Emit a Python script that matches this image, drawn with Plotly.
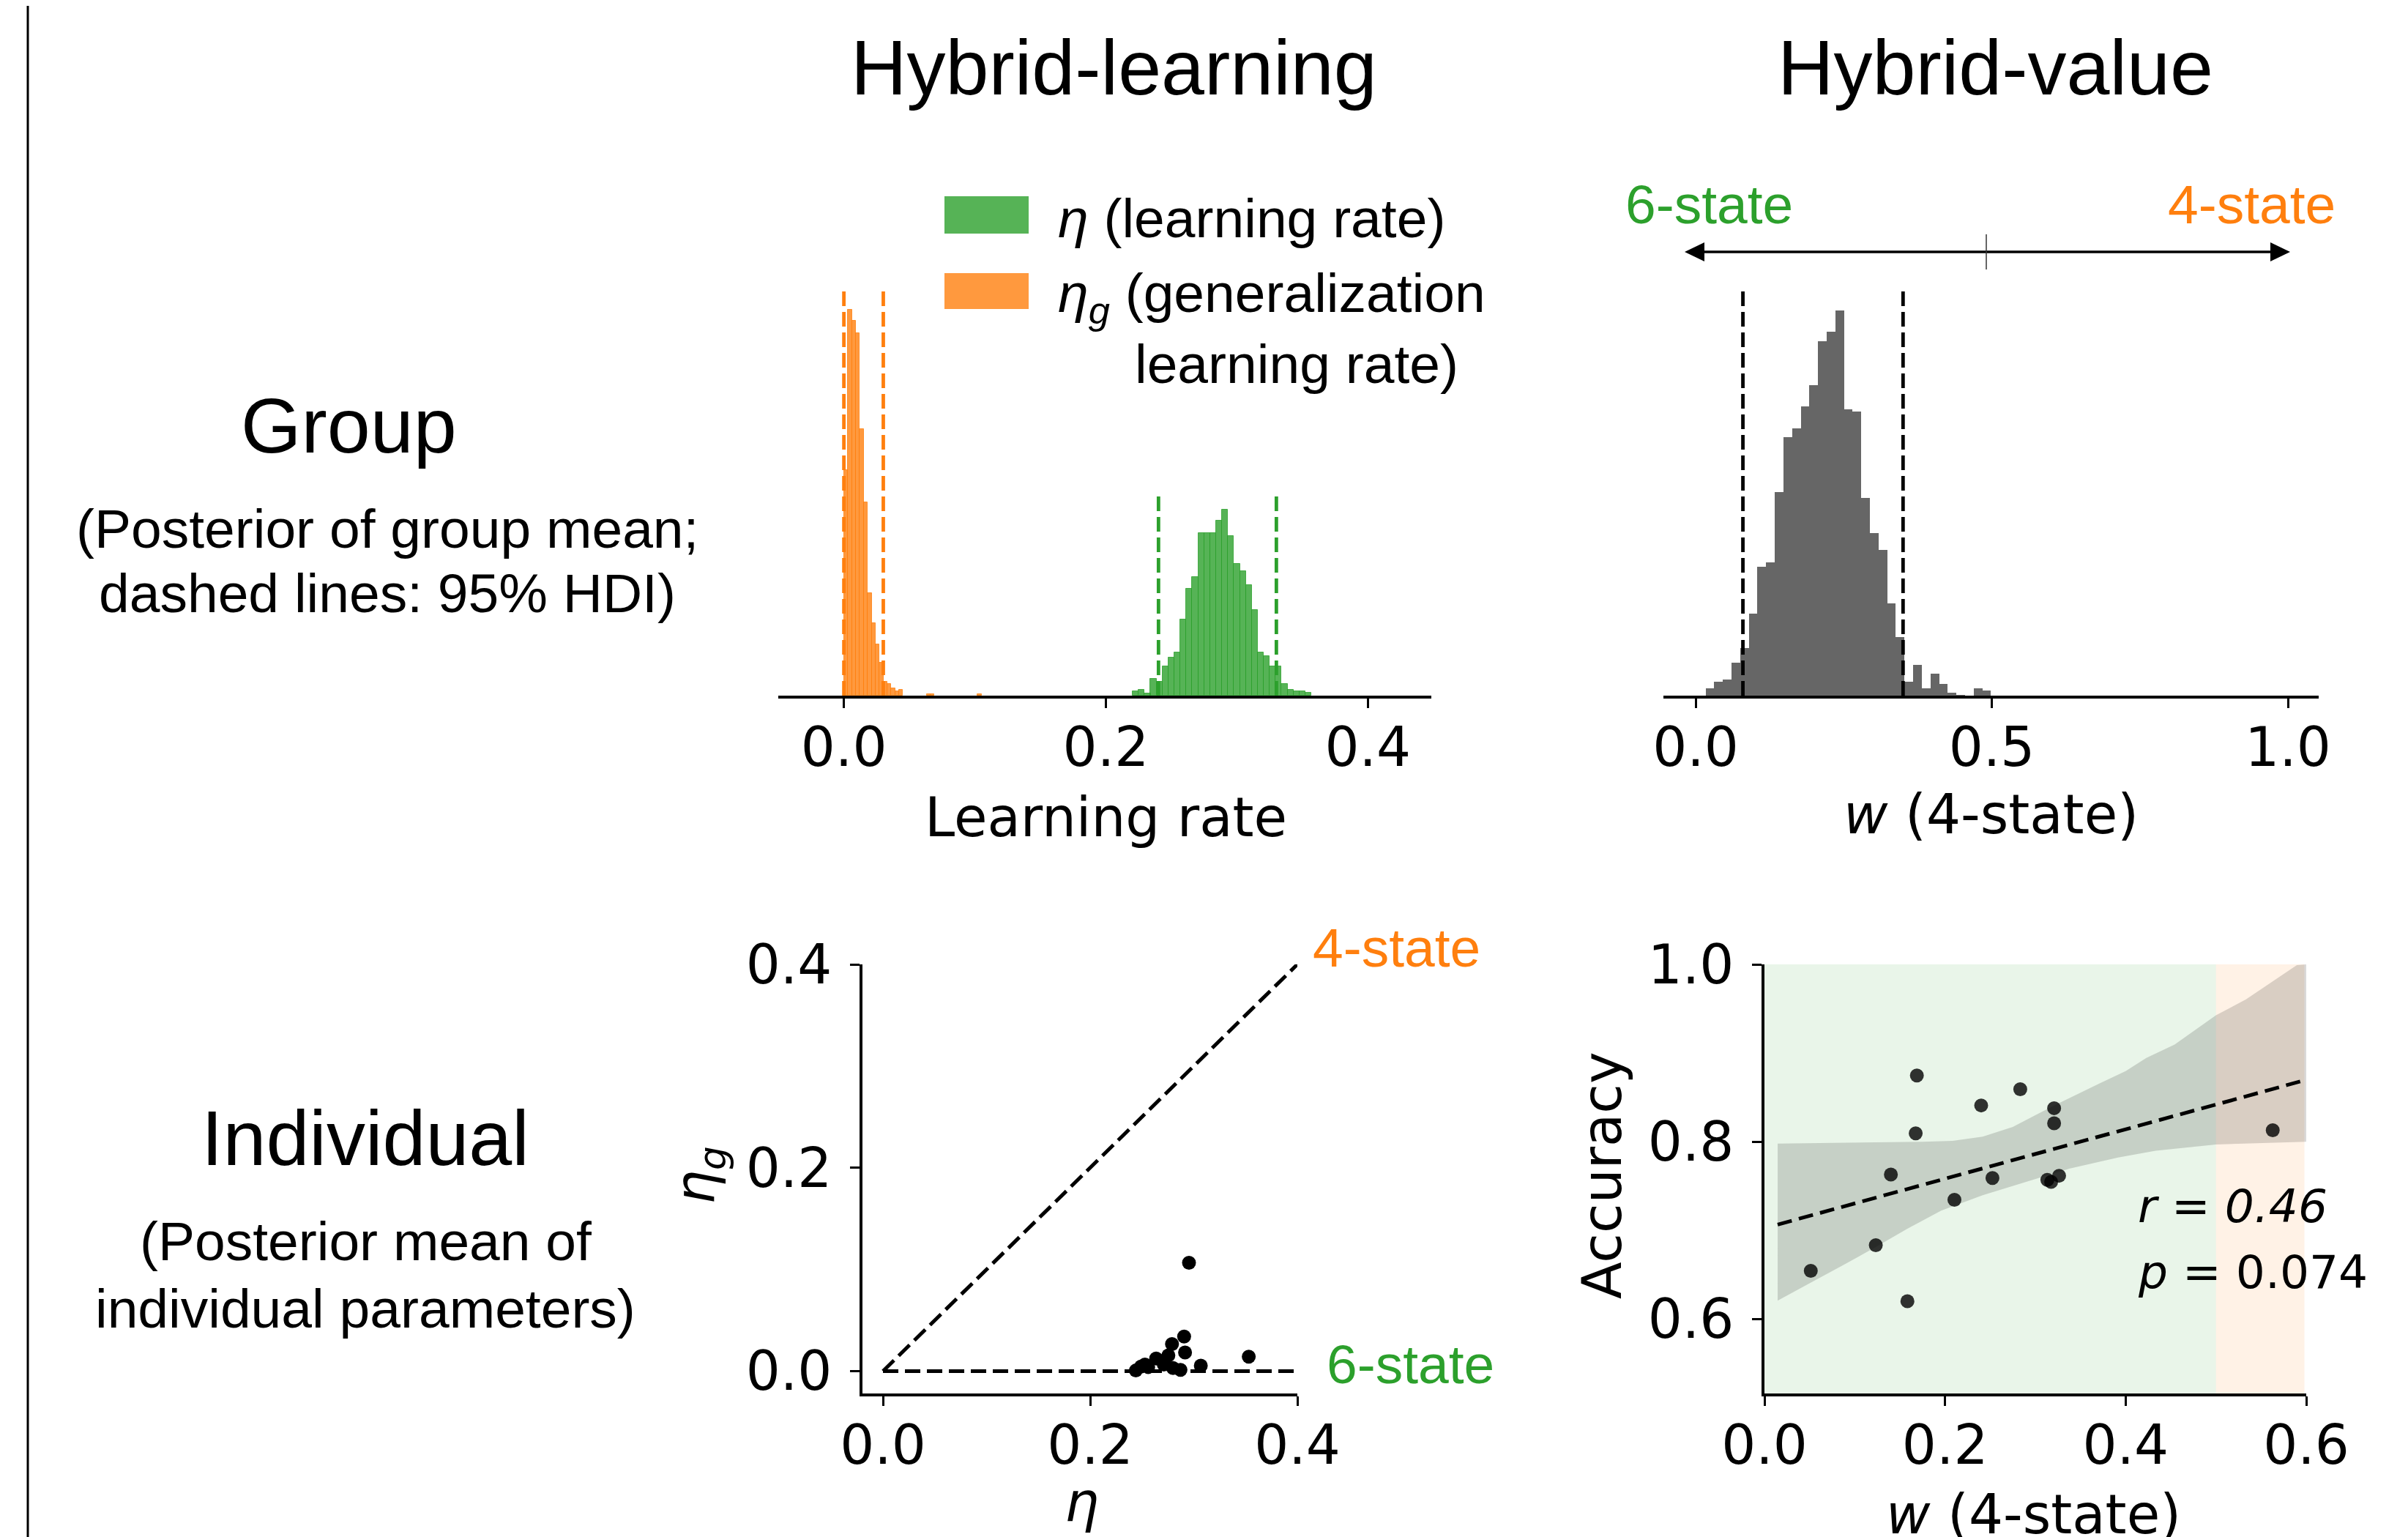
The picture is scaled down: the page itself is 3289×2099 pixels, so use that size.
import numpy as np
import plotly.graph_objects as go

W, H = 3289, 2099

# ---------------- data ----------------
# Group posterior of eta_g (generalization learning rate): bin centres and density (scaled)
eta_g_bins = [0.0017, 0.0047, 0.0077, 0.0107, 0.0137, 0.0167, 0.0197, 0.0227, 0.0257,
              0.0287, 0.0317, 0.0347, 0.0377, 0.0407, 0.0437, 0.0647, 0.0677, 0.1037]
eta_g_density = [0.552, 0.945, 0.917, 0.887, 0.653, 0.473, 0.251, 0.178, 0.125,
                 0.081, 0.034, 0.029, 0.018, 0.010, 0.014, 0.004, 0.004, 0.004]

# Group posterior of eta (learning rate)
eta_bins = [0.2228, 0.2273, 0.2319, 0.2364, 0.2410, 0.2455, 0.2501, 0.2546, 0.2591, 0.2637,
            0.2682, 0.2728, 0.2773, 0.2819, 0.2864, 0.2910, 0.2955, 0.3001, 0.3046, 0.3091,
            0.3137, 0.3182, 0.3228, 0.3273, 0.3319, 0.3364, 0.3410, 0.3455, 0.3501, 0.3546]
eta_density = [0.011, 0.015, 0.006, 0.042, 0.034, 0.072, 0.094, 0.106, 0.187, 0.261,
               0.291, 0.398, 0.398, 0.398, 0.428, 0.456, 0.390, 0.323, 0.305, 0.271,
               0.210, 0.106, 0.096, 0.071, 0.071, 0.029, 0.015, 0.011, 0.011, 0.008]

# Group posterior of w (4-state weight)
w_bins = [0.0241, 0.0387, 0.0533, 0.0679, 0.0825, 0.0971, 0.1117, 0.1263, 0.1409, 0.1555,
          0.1701, 0.1847, 0.1993, 0.2139, 0.2285, 0.2431, 0.2577, 0.2723, 0.2869, 0.3015,
          0.3161, 0.3307, 0.3453, 0.3599, 0.3745, 0.3891, 0.4037, 0.4183, 0.4329, 0.4475,
          0.4621, 0.4767, 0.4913]
w_density = [0.018, 0.034, 0.039, 0.080, 0.116, 0.201, 0.315, 0.326, 0.499, 0.633,
             0.654, 0.707, 0.759, 0.868, 0.890, 0.942, 0.701, 0.696, 0.483, 0.398,
             0.357, 0.226, 0.144, 0.034, 0.075, 0.018, 0.054, 0.028, 0.007, 0.0014,
             0.0, 0.018, 0.012]

# 95% HDI bounds and the heights of their dashed markers
eta_hdi = [0.2402, 0.3302]
eta_g_hdi = [0.0000, 0.0301]
w_hdi = [0.0798, 0.3502]
eta_hdi_height = 0.49
eta_g_hdi_height = 0.99
w_hdi_height = 0.99

# Individual posterior means (Hybrid-learning)
ind_eta = [0.2954, 0.2907, 0.2790, 0.2916, 0.2755, 0.2637, 0.2711, 0.2529,
           0.2491, 0.2441, 0.2872, 0.3068, 0.3531, 0.2700, 0.2560, 0.2800]
ind_eta_g = [0.1065, 0.0340, 0.0266, 0.0183, 0.0154, 0.0124, 0.0065, 0.0065,
             0.0044, 0.0006, 0.0012, 0.0053, 0.0142, 0.0100, 0.0040, 0.0030]
ref_x = [0.0, 0.4]
diag_y = [0.0, 0.4]
zero_y = [0.0, 0.0]

# Individual w vs accuracy (Hybrid-value)
ind_w = [0.1688, 0.2833, 0.2400, 0.3208, 0.3208, 0.1675, 0.5629, 0.1400,
         0.2525, 0.3133, 0.3175, 0.3263, 0.2104, 0.1233, 0.0513, 0.1583]
ind_acc = [0.8746, 0.8592, 0.8409, 0.8378, 0.8208, 0.8094, 0.8129, 0.7629,
           0.7591, 0.7569, 0.7547, 0.7616, 0.7345, 0.6832, 0.6543, 0.6200]
# confidence band of the regression
band_up_x = [0.0146, 0.075, 0.175, 0.2083, 0.2417, 0.275, 0.3208, 0.3708, 0.40,
             0.4229, 0.4542, 0.50, 0.5333, 0.5896, 0.60]
band_up_y = [0.7978, 0.7984, 0.800, 0.8009, 0.8057, 0.8167, 0.8409, 0.8655, 0.8796,
             0.8944, 0.9095, 0.9426, 0.9605, 0.9992, 1.0]
band_lo_x = [0.0146, 0.05, 0.0875, 0.1208, 0.1583, 0.1958, 0.2417, 0.2917, 0.3375,
             0.3917, 0.4333, 0.50, 0.60]
band_lo_y = [0.6206, 0.6404, 0.6609, 0.6798, 0.7018, 0.7223, 0.7396, 0.7553, 0.7695,
             0.7821, 0.7899, 0.7969, 0.800]
r_text = "r = 0.46"
p_text = "0.074"
w_split = 0.5

# ---------------- styles ----------------
GREEN = "#2ca02c"
ORANGE = "#ff7f0e"
GREEN_A = "rgba(44,160,44,0.8)"
ORANGE_A = "rgba(255,127,14,0.8)"
GRAY_A = "rgba(0,0,0,0.6)"
ARIAL = "Liberation Sans, Arial, sans-serif"
DJV = "DejaVu Sans, sans-serif"
TICK = 74
LAB = 74
BIG = 106
MID = 75
STAT = 63
LW = 3.5
OFF = 8  # page body margin compensation (px)


def px(x):
    return (x - OFF) / W


def py(y):
    return 1 - (y - OFF) / H


fig = go.Figure()

# ---- Panel A: histograms of learning rates ----
fig.add_trace(go.Bar(x=eta_g_bins, y=eta_g_density, width=0.003, marker_color=ORANGE_A,
                     marker_line=dict(color=ORANGE_A, width=1), xaxis="x", yaxis="y"))
fig.add_trace(go.Bar(x=eta_bins, y=eta_density, width=0.004546, marker_color=GREEN_A,
                     marker_line=dict(color=GREEN_A, width=1), xaxis="x", yaxis="y"))


def vlines(vals, h):
    xs, ys = [], []
    for v in vals:
        xs += [v, v, None]
        ys += [0, h, None]
    return xs, ys


for vals, h, col, xa, ya in [(eta_g_hdi, eta_g_hdi_height, ORANGE, "x", "y"),
                             (eta_hdi, eta_hdi_height, GREEN, "x", "y")]:
    xs, ys = vlines(vals, h)
    fig.add_trace(go.Scatter(x=xs, y=ys, mode="lines", xaxis=xa, yaxis=ya,
                             line=dict(color=col, width=4.8, dash="20px,8px")))

# ---- Panel B: histogram of w ----
fig.add_trace(go.Bar(x=w_bins, y=w_density, width=0.0146, marker_color=GRAY_A,
                     marker_line=dict(width=0), xaxis="x2", yaxis="y2"))
xs, ys = vlines(w_hdi, w_hdi_height)
fig.add_trace(go.Scatter(x=xs, y=ys, mode="lines", xaxis="x2", yaxis="y2",
                         line=dict(color="black", width=4.8, dash="20px,8px")))

# ---- Panel C: individual eta vs eta_g ----
fig.add_trace(go.Scatter(x=ref_x, y=diag_y, mode="lines", xaxis="x3", yaxis="y3",
                         line=dict(color="black", width=5, dash="21px,9px")))
fig.add_trace(go.Scatter(x=ref_x, y=zero_y, mode="lines", xaxis="x3", yaxis="y3",
                         line=dict(color="black", width=5, dash="21px,9px")))
fig.add_trace(go.Scatter(x=ind_eta, y=ind_eta_g, mode="markers", xaxis="x3", yaxis="y3",
                         marker=dict(color="black", size=19, line=dict(width=0))))

# ---- Panel D: w vs accuracy ----
bx = band_up_x + band_lo_x[::-1]
by = band_up_y + band_lo_y[::-1]
fig.add_trace(go.Scatter(x=bx, y=by, mode="lines", fill="toself", xaxis="x4", yaxis="y4",
                         fillcolor="rgba(0,0,0,0.15)", line=dict(width=0)))
slope, icpt = np.polyfit(ind_w, ind_acc, 1)
lx = np.array([min(band_up_x), max(band_up_x)])
fig.add_trace(go.Scatter(x=lx, y=icpt + slope * lx, mode="lines", xaxis="x4", yaxis="y4",
                         line=dict(color="black", width=5, dash="20px,10px")))
fig.add_trace(go.Scatter(x=ind_w, y=ind_acc, mode="markers", xaxis="x4", yaxis="y4",
                         marker=dict(color="rgba(0,0,0,0.8)", size=19, line=dict(width=0))))

# ---------------- axes ----------------
yA = [py(950), py(392)]
yC = [py(1903), py(1317)]
common = dict(showgrid=False, zeroline=False, showline=True, linecolor="black",
              linewidth=LW, ticks="outside", ticklen=13, tickwidth=3, tickcolor="black",
              tickfont=dict(family=DJV, size=TICK, color="black"), automargin=False)
cx = dict(common, ticklabelstandoff=-10)
cy = dict(common, ticklabelstandoff=10)

fig.update_layout(
    template="none",
    width=W, height=H, margin=dict(l=0, r=0, t=0, b=0, pad=0, autoexpand=False),
    paper_bgcolor="white", plot_bgcolor="white", showlegend=False,
    barmode="overlay", bargap=0,
    xaxis=dict(domain=[px(1063), px(1955)], range=[-0.0501, 0.4485], anchor="y",
               tickvals=[0, 0.2, 0.4], ticktext=["0.0", "0.2", "0.4"], **cx),
    yaxis=dict(domain=yA, range=[0, 1.0], visible=False, anchor="x", automargin=False),
    xaxis2=dict(domain=[px(2272), px(3167)], range=[-0.0544, 1.0519], anchor="y2",
                tickvals=[0, 0.5, 1.0], ticktext=["0.0", "0.5", "1.0"], **cx),
    yaxis2=dict(domain=yA, range=[0, 1.0], visible=False, anchor="x2", automargin=False),
    xaxis3=dict(domain=[px(1178), px(1772)], range=[-0.0198, 0.4], anchor="y3",
                tickvals=[0, 0.2, 0.4], ticktext=["0.0", "0.2", "0.4"], **cx),
    yaxis3=dict(domain=yC, range=[-0.022, 0.4], anchor="x3",
                tickvals=[0, 0.2, 0.4], ticktext=["0.0", "0.2", "0.4"], **cy),
    xaxis4=dict(domain=[px(2410), px(3150)], range=[0, 0.6], anchor="y4",
                tickvals=[0, 0.2, 0.4, 0.6], ticktext=["0.0", "0.2", "0.4", "0.6"], **cx),
    yaxis4=dict(domain=yC, range=[0.516, 1.0], anchor="x4",
                tickvals=[0.6, 0.8, 1.0], ticktext=["0.6", "0.8", "1.0"], **cy),
)

# ---------------- shapes ----------------
shapes = []
# background regions in panel D
shapes.append(dict(type="rect", xref="x4", yref="y4 domain", x0=0, x1=w_split, y0=0, y1=1,
                   fillcolor="rgba(44,160,44,0.1)", line=dict(width=0), layer="below"))
shapes.append(dict(type="rect", xref="x4", yref="y4 domain", x0=w_split, x1=0.598, y0=0, y1=1,
                   fillcolor="rgba(255,127,14,0.1)", line=dict(width=0), layer="below"))
# left border line
shapes.append(dict(type="line", xref="paper", yref="paper", x0=px(38), x1=px(38), y0=0, y1=1.01,
                   line=dict(color="black", width=3)))
# legend squares
shapes.append(dict(type="rect", xref="paper", yref="paper", x0=px(1290), x1=px(1405),
                   y0=py(319), y1=py(268), fillcolor=GREEN_A, line=dict(width=0)))
shapes.append(dict(type="rect", xref="paper", yref="paper", x0=px(1290), x1=px(1405),
                   y0=py(422), y1=py(373), fillcolor=ORANGE_A, line=dict(width=0)))
# double arrow above panel B
ay = 344
shapes.append(dict(type="line", xref="paper", yref="paper", x0=px(2318), x1=px(3111),
                   y0=py(ay), y1=py(ay), line=dict(color="black", width=3.5)))
shapes.append(dict(type="line", xref="paper", yref="paper", x0=px(2713), x1=px(2713),
                   y0=py(320), y1=py(368), line=dict(color="#333333", width=1.5)))
for tip, base in [(2301, 2328), (3128, 3101)]:
    path = "M {},{} L {},{} L {},{} Z".format(px(tip), py(ay), px(base), py(ay - 13),
                                             px(base), py(ay + 13))
    shapes.append(dict(type="path", xref="paper", yref="paper", path=path,
                       fillcolor="black", line=dict(width=0)))
fig.update_layout(shapes=shapes)

# ---------------- text ----------------
ann = []


def T(text, x, y, size, family=ARIAL, color="black", xanchor="center", angle=0):
    ann.append(dict(text=text, x=px(x), y=py(y), xref="paper", yref="paper",
                    showarrow=False, xanchor=xanchor, yanchor="middle", textangle=angle,
                    font=dict(family=family, size=size, color=color)))


T("Hybrid-learning", 1521, 92, BIG)
T("Hybrid-value", 2725, 92, BIG)
T("Group", 476, 581, BIG)
T("(Posterior of group mean;", 529, 722, MID)
T("dashed lines: 95% HDI)", 529, 810, MID)
T("Individual", 499, 1554, BIG)
T("(Posterior mean of", 499, 1695, MID)
T("individual parameters)", 499, 1787, MID)
# legend text
T("<i>η</i> (learning rate)", 1443, 298, MID, xanchor="left")
T("<i>η<sub>g</sub></i> (generalization", 1443, 405, MID, xanchor="left")
T("learning rate)", 1548, 497, MID, xanchor="left")
# state labels
T("6-state", 2334, 279, MID, color=GREEN)
T("4-state", 3075, 279, MID, color=ORANGE)
T("4-state", 1907, 1294, MID, color=ORANGE)
T("6-state", 1926, 1863, MID, color=GREEN)
# axis labels
T("Learning rate", 1510, 1116, LAB, family=DJV)
T("<i>w</i> (4-state)", 2719, 1112, LAB, family=DJV)
T("<i>η</i>", 1477, 2051, LAB, family=DJV)
T("<i>η<sub>g</sub></i>", 954, 1605, LAB, family=DJV, angle=-90)
T("Accuracy", 2188, 1605, LAB, family=DJV, angle=-90)
T("<i>w</i> (4-state)", 2777, 2068, LAB, family=DJV)
# statistics
T("<i>" + r_text + "</i>", 2918, 1647, STAT, family=DJV, xanchor="left")
T("<i>p</i> = " + p_text, 2918, 1737, STAT, family=DJV, xanchor="left")
fig.update_layout(annotations=ann)

fig.write_html("out.html")
